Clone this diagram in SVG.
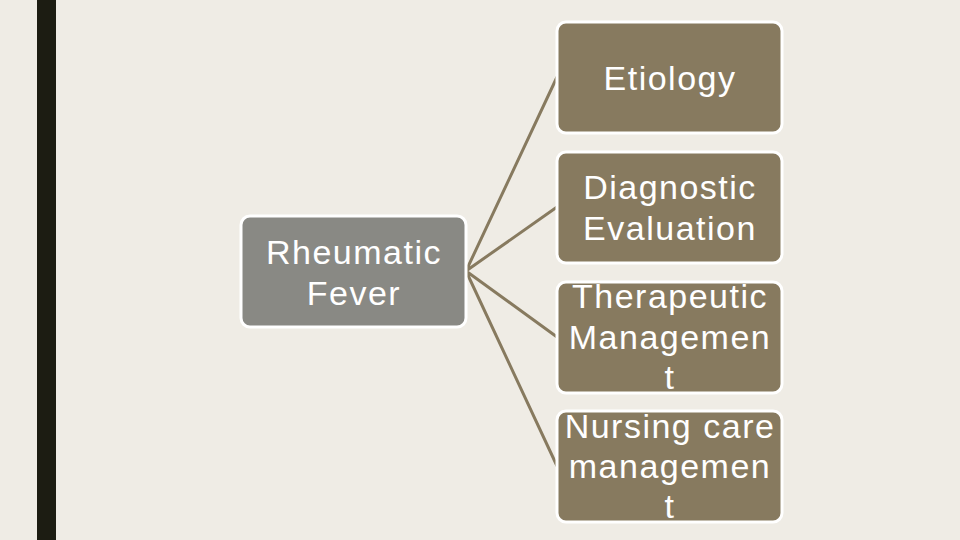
<svg xmlns="http://www.w3.org/2000/svg" width="960" height="540" viewBox="0 0 960 540">
<style>
.box{stroke:#fff;stroke-width:3}
.c{fill:#877A5F}
.r{fill:#898984}
text{font-family:"Liberation Sans",Arial,sans-serif;font-size:34px;letter-spacing:1.5px;fill:#fff;text-anchor:middle}
.l{stroke:#877A5F;stroke-width:3;fill:none}
</style>
<rect width="960" height="540" fill="#EFECE5"/>
<rect x="37" y="0" width="19" height="540" fill="#1C1C12"/>
<g id="connectors">
<path class="l" d="M466 271L557 77M466 271L557 207M466 271L557 337M466 271L557 466"/>
</g>
<g id="root"><rect class="box r" x="241" y="216" width="225" height="111" rx="9"/>
<text x="354" y="264">Rheumatic</text><text x="354" y="305">Fever</text></g>
<g id="etiology"><rect class="box c" x="557" y="22" width="225" height="111" rx="9"/>
<text x="670" y="90">Etiology</text></g>
<g id="diagnostic"><rect class="box c" x="557" y="152" width="225" height="111" rx="9"/>
<text x="670" y="199">Diagnostic</text><text x="670" y="240">Evaluation</text></g>
<g id="therapeutic"><rect class="box c" x="557" y="282" width="225" height="111" rx="9"/>
<text x="670" y="308">Therapeutic</text><text x="670" y="349">Managemen</text><text x="670" y="389">t</text></g>
<g id="nursing"><rect class="box c" x="557" y="411" width="225" height="111" rx="9"/>
<text x="670" y="438">Nursing care</text><text x="670" y="478">managemen</text><text x="670" y="518">t</text></g>
</svg>
